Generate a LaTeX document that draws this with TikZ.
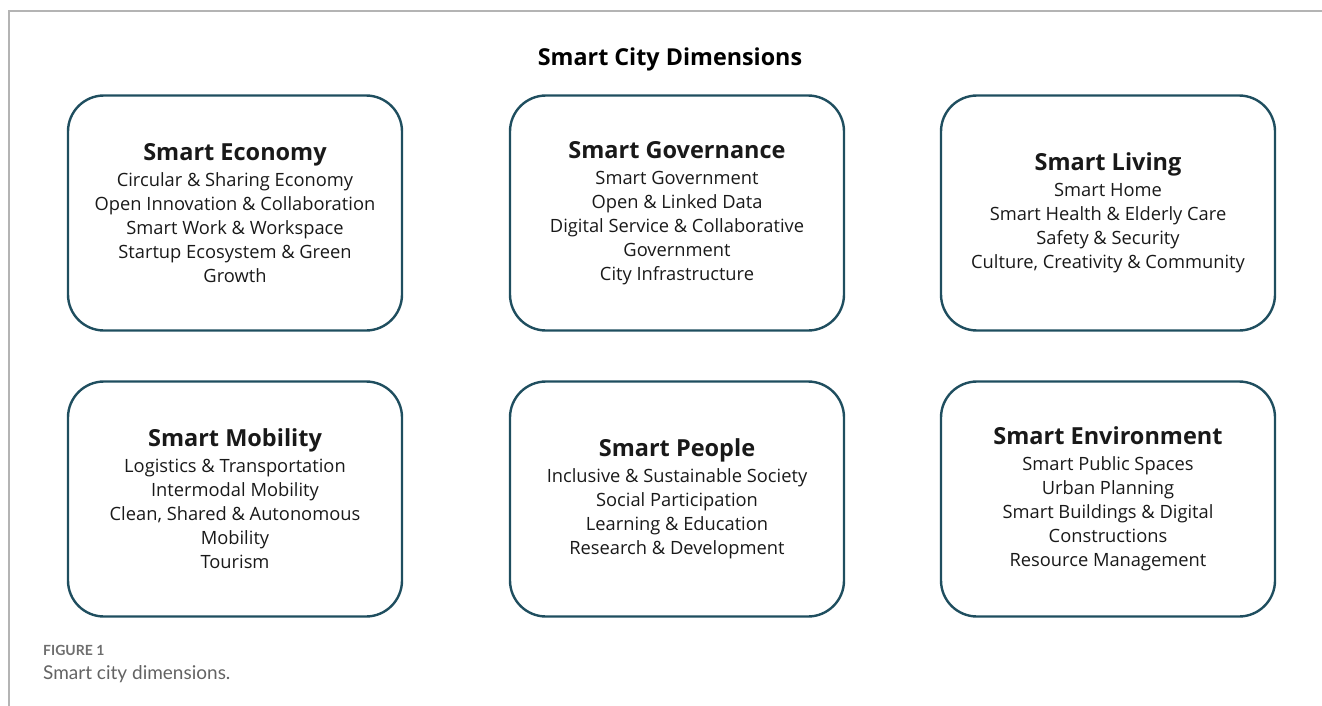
\documentclass[tikz,border=0pt]{standalone}
\usepackage{fontspec}
\setmainfont{Open Sans}
\newfontfamily\capfont{Lato}
\newcommand\headfont{\fontsize{23.5}{24}\selectfont\bfseries}
\definecolor{boxline}{HTML}{1F4E5F}
\definecolor{framegray}{HTML}{B4B4B4}
\definecolor{capgray}{HTML}{6E6E6E}
\begin{document}
\begin{tikzpicture}[x=1pt,y=-1pt,
  dimbox/.style={draw=boxline, line width=2.4pt, rounded corners=36pt,
    minimum width=334pt, minimum height=235pt, align=center,
    font=\fontsize{18.3}{24}\selectfont, text=black!90, inner sep=0pt}]
\useasboundingbox (0,0) rectangle (1322,706);
% page frame
\draw[framegray, line width=1.3pt] (9,706) -- (9,11) -- (1322,11);
% title
\node[font=\fontsize{23.3}{24}\selectfont\bfseries] (title) at (670,59) {Smart City Dimensions};
% dimension boxes
\node[dimbox] (econ) at (235,213) {{\headfont Smart Economy}\\[2pt]
  Circular \& Sharing Economy\\ Open Innovation \& Collaboration\\
  Smart Work \& Workspace\\ Startup Ecosystem \& Green\\ Growth};
\node[dimbox] (gov) at (677,213) {{\headfont Smart Governance}\\[2pt]
  Smart Government\\ Open \& Linked Data\\
  Digital Service \& Collaborative\\ Government\\ City Infrastructure};
\node[dimbox] (living) at (1108,213) {{\headfont Smart Living}\\[2pt]
  Smart Home\\ Smart Health \& Elderly Care\\
  Safety \& Security\\ Culture, Creativity \& Community};
\node[dimbox] (mob) at (235,499) {{\headfont Smart Mobility}\\[2pt]
  Logistics \& Transportation\\ Intermodal Mobility\\
  Clean, Shared \& Autonomous\\ Mobility\\ Tourism};
\node[dimbox] (people) at (677,499) {{\headfont Smart People}\\[2pt]
  Inclusive \& Sustainable Society\\ Social Participation\\
  Learning \& Education\\ Research \& Development};
\node[dimbox] (env) at (1108,499) {{\headfont Smart Environment}\\[2pt]
  Smart Public Spaces\\ Urban Planning\\
  Smart Buildings \& Digital\\ Constructions\\ Resource Management};
% caption
\node[anchor=base west, inner sep=0pt, text=capgray, font=\capfont\fontsize{14}{15}\selectfont\bfseries] (fig) at (43,655) {FIGURE 1};
\node[anchor=base west, inner sep=0pt, text=capgray!90!black, font=\capfont\fontsize{19}{20}\selectfont] (cap) at (43,679) {Smart city dimensions.};
\end{tikzpicture}
\end{document}
